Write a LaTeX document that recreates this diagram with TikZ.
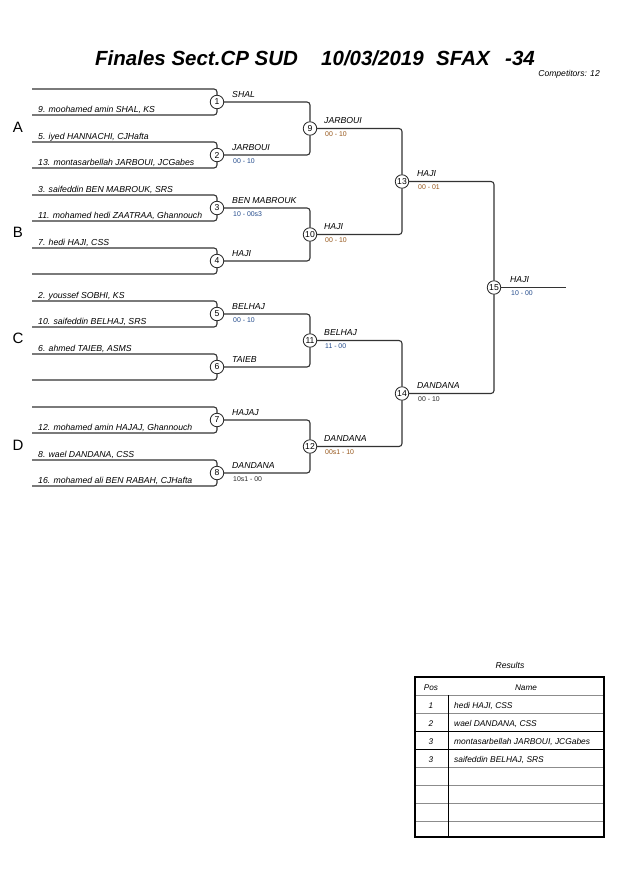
\documentclass[tikz,border=0pt]{standalone}
\usepackage{fontspec}
\setmainfont{Liberation Sans}
\definecolor{scb}{RGB}{35,75,140}
\definecolor{sco}{RGB}{150,85,25}
\definecolor{scd}{RGB}{40,40,40}
\begin{document}
\begin{tikzpicture}[x=1pt,y=-1pt,
 bl/.style={draw=black!80, line width=1.1pt, rounded corners=3pt},
 mc/.style={circle, draw=black!85, line width=0.8pt, fill=white, inner sep=0pt, minimum size=13.5pt, font=\fontsize{8.6}{8.6}\selectfont},
 pname/.style={anchor=base west, inner sep=0pt, font=\fontsize{8.7}{9}\selectfont\itshape},
 wname/.style={anchor=base west, inner sep=0pt, font=\fontsize{8.7}{9}\selectfont\itshape},
 score/.style={anchor=base west, inner sep=0pt, font=\fontsize{6.9}{7}\selectfont},
 grp/.style={inner sep=0pt, font=\fontsize{15}{15}\selectfont},
 ttl/.style={anchor=base west, inner sep=0pt, font=\fontsize{20.5}{21}\selectfont\bfseries\itshape},
 tcell/.style={anchor=base, inner sep=0pt, font=\fontsize{8.2}{9}\selectfont\itshape},
 tname/.style={anchor=base west, inner sep=0pt, font=\fontsize{8.4}{9}\selectfont\itshape},
 tline/.style={draw=black!45, line width=1pt},
]
\useasboundingbox[fill=white] (0,0) rectangle (630,891);

% title
\node[ttl] (t1) at (95,66) {Finales Sect.CP SUD};
\node[ttl] (t2) at (321,66) {10/03/2019};
\node[ttl] (t3) at (436,66) {SFAX};
\node[ttl] (t4) at (505,66) {-34};
\node[anchor=base east, inner sep=0pt, font=\fontsize{8.6}{9}\selectfont\itshape] (comp) at (600,77) {Competitors: 12};

% group letters
\node[grp] (gA) at (18,127) {A};
\node[grp] (gB) at (18,232) {B};
\node[grp] (gC) at (18,338) {C};
\node[grp] (gD) at (18,445) {D};

% round 1
\foreach \k/\yy in {1/89,2/142,3/195,4/248,5/301,6/354,7/407,8/460} {
  \coordinate (a\k) at (32,\yy);
  \coordinate (b\k) at (32,\yy+26);
  \node[mc] (m\k) at (217,\yy+13) {\k};
}
% later rounds
\node[mc] (m9) at (310,128.5) {9};
\node[mc] (m10) at (310,234.5) {10};
\node[mc] (m11) at (310,340.5) {11};
\node[mc] (m12) at (310,446.5) {12};
\node[mc] (m13) at (402,181.5) {13};
\node[mc] (m14) at (402,393.5) {14};
\node[mc] (m15) at (494,287.5) {15};
\coordinate (fin) at (566,287.5);

% connectors
\foreach \k in {1,...,8} {
  \draw[bl] (a\k) -| (m\k.north);
  \draw[bl] (b\k) -| (m\k.south);
}
\draw[bl] (m1.east) -| (m9.north);
\draw[bl] (m2.east) -| (m9.south);
\draw[bl] (m3.east) -| (m10.north);
\draw[bl] (m4.east) -| (m10.south);
\draw[bl] (m5.east) -| (m11.north);
\draw[bl] (m6.east) -| (m11.south);
\draw[bl] (m7.east) -| (m12.north);
\draw[bl] (m8.east) -| (m12.south);
\draw[bl] (m9.east) -| (m13.north);
\draw[bl] (m10.east) -| (m13.south);
\draw[bl] (m11.east) -| (m14.north);
\draw[bl] (m12.east) -| (m14.south);
\draw[bl] (m13.east) -| (m15.north);
\draw[bl] (m14.east) -| (m15.south);
\draw[bl] (m15.east) -- (fin);

% player names
\node[pname] (p1b) at (38,112) {9. moohamed amin SHAL, KS};
\node[pname] (p2a) at (38,139) {5. iyed HANNACHI, CJHafta};
\node[pname] (p2b) at (38,165) {13. montasarbellah JARBOUI, JCGabes};
\node[pname] (p3a) at (38,192) {3. saifeddin BEN MABROUK, SRS};
\node[pname] (p3b) at (38,218) {11. mohamed hedi ZAATRAA, Ghannouch};
\node[pname] (p4a) at (38,245) {7. hedi HAJI, CSS};
\node[pname] (p5a) at (38,298) {2. youssef SOBHI, KS};
\node[pname] (p5b) at (38,324) {10. saifeddin BELHAJ, SRS};
\node[pname] (p6a) at (38,351) {6. ahmed TAIEB, ASMS};
\node[pname] (p7b) at (38,430) {12. mohamed amin HAJAJ, Ghannouch};
\node[pname] (p8a) at (38,457) {8. wael DANDANA, CSS};
\node[pname] (p8b) at (38,483) {16. mohamed ali BEN RABAH, CJHafta};

% round 2 winners
\node[wname] (w1) at (232,97) {SHAL};
\node[wname] (w2) at (232,150) {JARBOUI};
\node[score, text=scb] (s2) at (233,163) {00 - 10};
\node[wname] (w3) at (232,203) {BEN MABROUK};
\node[score, text=scb] (s3) at (233,216) {10 - 00s3};
\node[wname] (w4) at (232,256) {HAJI};
\node[wname] (w5) at (232,309) {BELHAJ};
\node[score, text=scb] (s5) at (233,322) {00 - 10};
\node[wname] (w6) at (232,362) {TAIEB};
\node[wname] (w7) at (232,415) {HAJAJ};
\node[wname] (w8) at (232,468) {DANDANA};
\node[score, text=scd] (s8) at (233,481) {10s1 - 00};

% round 3 winners
\node[wname] (w9) at (324,123.5) {JARBOUI};
\node[score, text=sco] (s9) at (325,136.5) {00 - 10};
\node[wname] (w10) at (324,229.5) {HAJI};
\node[score, text=sco] (s10) at (325,242.5) {00 - 10};
\node[wname] (w11) at (324,335.5) {BELHAJ};
\node[score, text=scb] (s11) at (325,348.5) {11 - 00};
\node[wname] (w12) at (324,441.5) {DANDANA};
\node[score, text=sco] (s12) at (325,454.5) {00s1 - 10};

% round 4 winners
\node[wname] (w13) at (417,176.5) {HAJI};
\node[score, text=sco] (s13) at (418,189.5) {00 - 01};
\node[wname] (w14) at (417,388.5) {DANDANA};
\node[score, text=scd] (s14) at (418,401.5) {00 - 10};

% final
\node[wname] (w15) at (510,282.5) {HAJI};
\node[score, text=scb] (s15) at (511,295.5) {10 - 00};

% results table
\node[anchor=base, inner sep=0pt, font=\fontsize{8.6}{9}\selectfont\itshape] (res) at (510,668) {Results};
\foreach \yy in {695,713,767,785,803,821} {
  \draw[tline] (415,\yy) -- (604,\yy);
}
\draw[black, line width=1pt] (415,731) -- (604,731);
\draw[black, line width=1pt] (415,749) -- (604,749);
\draw[black, line width=1pt] (448,695) -- (448,837);
\draw[black, line width=1.5pt] (415,677) rectangle (604,837);
\node[tcell] (hpos) at (431,690) {Pos};
\node[tcell] (hname) at (526,690) {Name};
\node[tcell] (r1p) at (431,708) {1};
\node[tname] (r1n) at (454,708) {hedi HAJI, CSS};
\node[tcell] (r2p) at (431,726) {2};
\node[tname] (r2n) at (454,726) {wael DANDANA, CSS};
\node[tcell] (r3p) at (431,744) {3};
\node[tname] (r3n) at (454,744) {montasarbellah JARBOUI, JCGabes};
\node[tcell] (r4p) at (431,762) {3};
\node[tname] (r4n) at (454,762) {saifeddin BELHAJ, SRS};
\end{tikzpicture}
\end{document}
